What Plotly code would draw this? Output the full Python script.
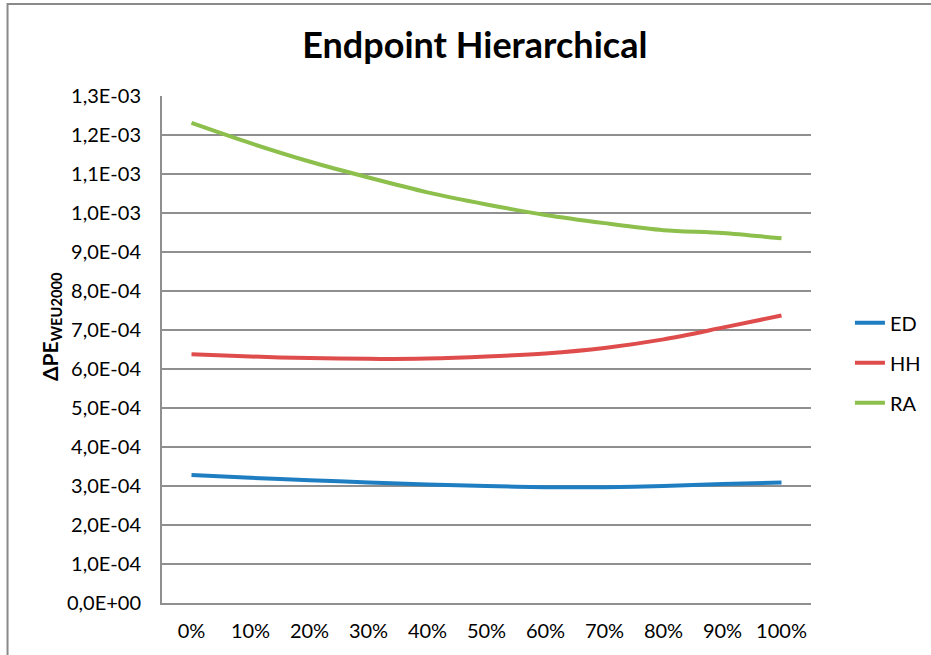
import plotly.graph_objects as go

# Share of scenario (x categories)
categories = ["0%", "10%", "20%", "30%", "40%", "50%", "60%", "70%", "80%", "90%", "100%"]

# ΔPE_WEU2000 per perspective
ed_values = [3.28e-4, 3.21e-4, 3.15e-4, 3.09e-4, 3.04e-4, 3.00e-4, 2.97e-4, 2.97e-4, 3.00e-4, 3.05e-4, 3.09e-4]
hh_values = [6.38e-4, 6.32e-4, 6.28e-4, 6.26e-4, 6.27e-4, 6.32e-4, 6.40e-4, 6.54e-4, 6.76e-4, 7.06e-4, 7.37e-4]
ra_values = [1.231e-3, 1.179e-3, 1.132e-3, 1.091e-3, 1.053e-3, 1.022e-3, 9.95e-4, 9.74e-4, 9.56e-4, 9.49e-4, 9.35e-4]

# Y-axis ticks (comma decimal, scientific notation)
y_tickvals = [i * 1e-4 for i in range(14)]
y_ticktext = ["0,0E+00", "1,0E-04", "2,0E-04", "3,0E-04", "4,0E-04", "5,0E-04", "6,0E-04",
              "7,0E-04", "8,0E-04", "9,0E-04", "1,0E-03", "1,1E-03", "1,2E-03", "1,3E-03"]

series = [
    ("ED", ed_values, "#1F7EC2"),
    ("HH", hh_values, "#DF4C4C"),
    ("RA", ra_values, "#8CBF4B"),
]

FONT = "Lato, 'Open Sans', sans-serif"
GRID = "#8F8F8F"

fig = go.Figure()
for name, vals, color in series:
    fig.add_trace(go.Scatter(
        x=categories, y=vals, name=name, mode="lines",
        line=dict(color=color, width=4, shape="spline", smoothing=0.8),
        legendgroup=name,
    ))

fig.update_layout(
    width=931, height=655,
    margin=dict(l=162, r=120, t=96, b=52, autoexpand=False),
    paper_bgcolor="white", plot_bgcolor="white",
    font=dict(family=FONT, size=20, color="#000000"),
    title=dict(text="<b>Endpoint Hierarchical</b>", x=0.51, xanchor="center",
               xref="container", y=0.93, yanchor="middle",
               font=dict(family=FONT, size=36, color="#000000")),
    showlegend=True,
    legend=dict(x=1.06, xanchor="left", y=0.591, yanchor="top",
                font=dict(family=FONT, size=20), tracegroupgap=11,
                bgcolor="rgba(0,0,0,0)"),
    xaxis=dict(
        type="category", range=[-0.5, 10.5], showgrid=False,
        showline=True, linecolor=GRID, linewidth=2,
        ticks="", ticklabelstandoff=9, zeroline=False,
        tickfont=dict(family=FONT, size=20),
    ),
    yaxis=dict(
        range=[0, 1.3e-3], tickvals=y_tickvals, ticktext=y_ticktext,
        showgrid=True, gridcolor=GRID, gridwidth=1.5,
        showline=True, linecolor=GRID, linewidth=2,
        ticks="", ticklabelstandoff=15, zeroline=False,
        tickfont=dict(family=FONT, size=20),
    ),
    annotations=[dict(
        text="<b>ΔPE<sub>WEU2000</sub></b>", textangle=-90,
        xref="paper", yref="paper", x=-0.172, y=0.545,
        xanchor="center", yanchor="middle", showarrow=False,
        font=dict(family=FONT, size=21, color="#000000"),
    )],
    shapes=[dict(
        type="rect", xref="paper", yref="paper",
        x0=-0.238, x1=1.4, y0=-0.3, y1=1.1815,
        line=dict(color="#8A8A8A", width=2), fillcolor="rgba(0,0,0,0)",
        layer="below",
    )],
)

fig.write_html("out.html")
